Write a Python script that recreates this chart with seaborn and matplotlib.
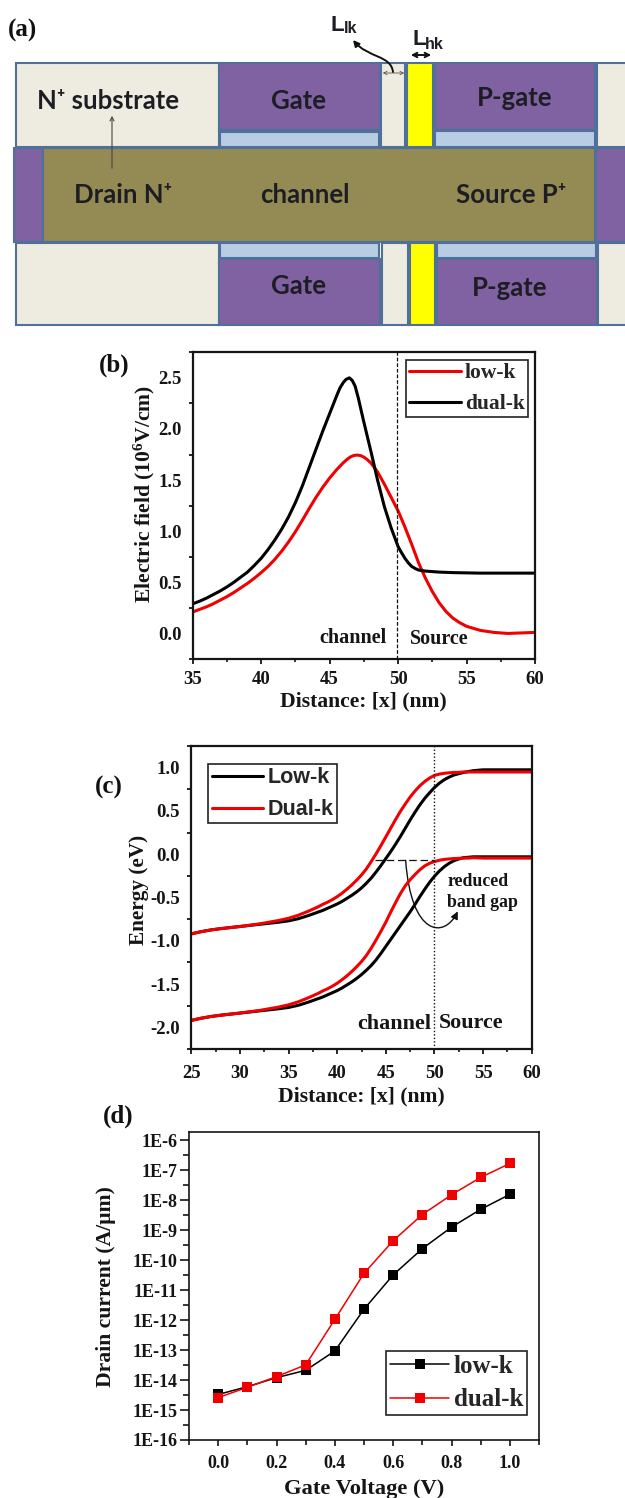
import matplotlib
matplotlib.use("Agg")
import matplotlib.pyplot as plt
from matplotlib.patches import Rectangle, FancyArrowPatch
from matplotlib.path import Path
from matplotlib.ticker import FixedLocator, NullFormatter
import pandas as pd
import seaborn as sns

sns.set_theme(style="white")
SERIF = ["Liberation Serif", "DejaVu Serif"]
plt.rcParams["font.family"] = SERIF
plt.rcParams["font.weight"] = "bold"
plt.rcParams["mathtext.fontset"] = "custom"
plt.rcParams["mathtext.rm"] = "Liberation Serif:bold"
plt.rcParams["mathtext.default"] = "rm"
plt.rcParams["lines.solid_joinstyle"] = "round"

W, H = 625, 1498

# ---------- panel (b) ----------
b_x_low = [35, 35.5, 36, 36.5, 37, 37.5, 38, 38.5, 39, 39.5, 40, 40.5, 41, 41.5, 42, 42.5, 43, 43.5, 44, 44.5, 45, 45.5,
           46, 46.25, 46.5, 46.75, 47, 47.25, 47.5, 47.75, 48, 48.5, 49, 49.5, 50, 50.5, 51, 51.5, 52, 52.5, 53, 53.5,
           54, 54.5, 55, 55.5, 56, 57, 58, 59, 60]
b_low = [.21, .235, .26, .29, .325, .36, .40, .445, .49, .54, .595, .655, .725, .805, .895, .995, 1.105, 1.22, 1.33, 1.43, 1.52, 1.60,
         1.67, 1.70, 1.725, 1.74, 1.745, 1.74, 1.725, 1.70, 1.67, 1.58, 1.46, 1.33, 1.20, 1.04, .87, .69, .54, .41, .30, .215,
         .15, .105, .07, .05, .03, .01, 0.0, .005, .01]
b_x_dual = [35, 35.5, 36, 36.5, 37, 37.5, 38, 38.5, 39, 39.5, 40, 40.5, 41, 41.5, 42, 42.5, 43, 43.5, 44, 44.5, 45, 45.5,
            45.75, 46, 46.2, 46.44, 46.65, 46.86, 47.1, 47.46, 48.07, 48.5, 49, 49.5, 50, 50.25, 50.5, 50.75, 51, 51.25, 51.5,
            52, 52.5, 53, 54, 56, 60]
b_dual = [.29, .315, .345, .38, .415, .455, .50, .55, .60, .665, .735, .82, .915, 1.02, 1.14, 1.28, 1.44, 1.62, 1.80, 1.98, 2.15, 2.32,
          2.40, 2.455, 2.485, 2.50, 2.475, 2.42, 2.30, 2.09, 1.75, 1.50, 1.24, 1.03, .85, .79, .735, .69, .655, .635, .62,
          .61, .605, .60, .595, .59, .59]

# ---------- panel (c) ----------
c_x = [25, 26, 27, 28, 30, 32, 34, 35, 36, 37, 37.5, 38, 38.5, 39, 39.5, 40, 40.5, 41, 41.5, 42, 42.5, 43, 43.5, 44, 44.5, 45,
       45.5, 46, 46.5, 47, 47.5, 48, 48.5, 49, 49.5, 50, 50.5, 51, 51.5, 52, 52.5, 53, 53.5, 54, 55, 60]
c_low_cb = [-.92, -.895, -.875, -.86, -.835, -.81, -.785, -.77, -.745, -.71, -.69, -.67, -.65, -.625, -.60, -.575, -.545, -.51, -.475, -.435, -.39, -.335, -.275, -.205, -.13, -.05,
            .03, .115, .205, .30, .395, .485, .57, .645, .71, .77, .82, .86, .89, .915, .93, .945, .955, .965, .975, .975]
c_dual_cb = [-.92, -.895, -.875, -.86, -.835, -.805, -.765, -.74, -.705, -.66, -.635, -.61, -.58, -.555, -.525, -.49, -.45, -.405, -.355, -.30, -.24, -.17, -.085, .005, .10, .20,
             .30, .40, .495, .58, .66, .73, .79, .84, .88, .91, .925, .935, .94, .945, .945, .95, .95, .95, .95, .95]
c_low_vb = [-1.92, -1.895, -1.875, -1.86, -1.835, -1.81, -1.785, -1.77, -1.745, -1.71, -1.69, -1.67, -1.65, -1.625, -1.60, -1.575, -1.545, -1.51, -1.475, -1.435, -1.39, -1.34, -1.285, -1.22, -1.145, -1.065,
            -.985, -.905, -.825, -.745, -.665, -.58, -.49, -.405, -.325, -.255, -.195, -.145, -.105, -.075, -.055, -.04, -.035, -.03, -.03, -.03]
c_dual_vb = [-1.92, -1.895, -1.875, -1.86, -1.835, -1.805, -1.765, -1.74, -1.705, -1.66, -1.635, -1.61, -1.58, -1.555, -1.525, -1.49, -1.45, -1.405, -1.355, -1.30, -1.24, -1.17, -1.085, -.99, -.89, -.785,
             -.67, -.56, -.455, -.365, -.295, -.235, -.18, -.135, -.105, -.085, -.07, -.06, -.055, -.05, -.048, -.045, -.045, -.04, -.045, -.045]

# ---------- panel (d) ----------
d_vg = [0.0, 0.1, 0.2, 0.3, 0.4, 0.5, 0.6, 0.7, 0.8, 0.9, 1.0]
d_low = [3.3e-15, 6e-15, 1.2e-14, 2.1e-14, 9.3e-14, 2.3e-12, 3.2e-11, 2.4e-10, 1.25e-9, 4.9e-9, 1.55e-8]
d_dual = [2.6e-15, 5.7e-15, 1.3e-14, 3.2e-14, 1.05e-12, 3.6e-11, 4.4e-10, 3.3e-9, 1.5e-8, 5.7e-8, 1.66e-7]
d_ticklabels = ["1E-6", "1E-7", "1E-8", "1E-9", "1E-10", "1E-11", "1E-12", "1E-13", "1E-14", "1E-15", "1E-16"]

# ---------- panel (a) schematic ----------
CREAM, PURPLE, PALE, OLIVE, YELLOW = "#eeece1", "#8062a2", "#b8cce4", "#948a54", "#ffff00"
a_blocks = [
    (16, 63, 203, 84, CREAM), (219, 63, 161, 67, PURPLE), (220, 132, 159, 15, PALE),
    (381, 63, 24, 84, CREAM), (407, 63, 26, 84, YELLOW), (435, 63, 160, 67, PURPLE),
    (435, 131, 160, 16, PALE), (597, 63, 30, 84, CREAM),
    (14, 148, 29, 94, PURPLE), (43, 148, 552, 94, OLIVE), (596, 148, 30, 94, PURPLE),
    (16, 243, 203, 82, CREAM), (220, 243, 159, 15, PALE), (219, 259, 161, 66, PURPLE),
    (382, 243, 26, 82, CREAM), (410, 243, 25, 82, YELLOW), (437, 243, 159, 15, PALE),
    (437, 259, 160, 66, PURPLE), (598, 243, 30, 82, CREAM),
]
a_labels = [("Gate", 298, 101), ("P-gate", 515, 98), ("Drain N⁺", 123, 195), ("channel", 305, 195),
            ("Source P⁺", 511, 195), ("Gate", 298, 286), ("P-gate", 510, 288), ("N⁺ substrate", 108, 101)]


def axes_px(l, t, r, b):
    return fig.add_axes([l / W, 1 - b / H, (r - l) / W, (b - t) / H])


def style_axes(ax, lw=1.6):
    for s in ax.spines.values():
        s.set_linewidth(lw)
        s.set_color("#151515")
    ax.tick_params(which="major", direction="out", length=3.5, width=1.3, labelsize=13.5,
                   color="#151515", labelcolor="#151515", pad=5, left=True, bottom=True)
    ax.tick_params(which="minor", direction="out", length=2.2, width=1.2, color="#151515", left=True, bottom=True)
    ax.grid(False)


def long_table(x, y, name):
    return pd.DataFrame({"x": x, "y": y, "series": name})


fig = plt.figure(figsize=(W / 100, H / 100), dpi=100, facecolor="white")
bg = fig.add_axes([0, 0, 1, 1])
bg.set_xlim(0, W)
bg.set_ylim(H, 0)
bg.axis("off")

for (x, y, w, h, c) in a_blocks:
    bg.add_patch(Rectangle((x, y), w, h, facecolor=c, edgecolor="#4f7199", lw=1.5))
A_FONT = ["Lato", "DejaVu Sans"]
for s, x, y in a_labels:
    bg.text(x, y, s, ha="center", va="center", fontsize=18.5, fontweight="bold", color="#1d1d24", family=A_FONT)
bg.add_patch(FancyArrowPatch((112, 171), (112, 113), arrowstyle="->", mutation_scale=7, lw=0.8, color="#444444"))
bg.add_patch(FancyArrowPatch((380, 73), (407, 73), arrowstyle="<->", mutation_scale=6, lw=0.6, color="#555555"))
bg.add_patch(FancyArrowPatch((408, 55), (434, 55), arrowstyle="<->", mutation_scale=8, lw=1.4, color="#111111"))
curl = Path([(393, 72), (391, 55), (368, 58), (353, 40)], [Path.MOVETO, Path.CURVE4, Path.CURVE4, Path.CURVE4])
bg.add_patch(FancyArrowPatch(path=curl, arrowstyle="-|>", mutation_scale=9, lw=1.4, color="#111111"))
SANS = ["Liberation Sans"]
bg.text(331, 31, "L", fontsize=16, fontweight="bold", color="#1d1d24", family=SANS, va="baseline")
bg.text(344, 33, "lk", fontsize=11.5, fontweight="bold", color="#1d1d24", family=SANS, va="baseline")
bg.text(412, 45, "L", fontsize=16, fontweight="bold", color="#1d1d24", family=SANS, va="baseline")
bg.text(425, 49, "hk", fontsize=11.5, fontweight="bold", color="#1d1d24", family=SANS, va="baseline")

for s, x, y in [("(a)", 8, 30), ("(b)", 99, 365), ("(c)", 95, 787), ("(d)", 103, 1116)]:
    bg.text(x, y, s, fontsize=18, fontweight="bold", color="#111111", va="center")

# ---------- (b) ----------
ax = axes_px(192.7, 352.3, 535, 659)
dfb = pd.concat([long_table(b_x_low, b_low, "low-k"), long_table(b_x_dual, b_dual, "dual-k")])
sns.lineplot(data=dfb, x="x", y="y", hue="series", palette={"low-k": "#f00000", "dual-k": "black"},
             linewidth=2.2, sort=False, errorbar=None, ax=ax, legend=False)
ax.set_xlim(35, 60)
ax.set_ylim(-0.25, 2.75)
style_axes(ax)
ax.set_xticks([35, 40, 45, 50, 55, 60])
ax.xaxis.set_minor_locator(FixedLocator([37.5, 42.5, 47.5, 52.5, 57.5]))
ax.set_yticks([0, .5, 1, 1.5, 2, 2.5])
ax.tick_params(axis="y", which="major", length=0, pad=8)
ax.yaxis.set_minor_locator(FixedLocator([-.25, .25, .75, 1.25, 1.75, 2.25, 2.75]))
ax.tick_params(axis="y", which="minor", length=3.2, width=1.3)
ax.set_xticklabels(["35", "40", "45", "50", "55", "60"])
ax.set_yticklabels(["0.0", "0.5", "1.0", "1.5", "2.0", "2.5"])
ax.axvline(49.9, color="#111111", lw=0.9, ls=(0, (3, 1.5)))
ax.set_xlabel("Distance: [x] (nm)", fontsize=15.6, fontweight="bold", color="#151515", x=0.498, labelpad=3)
ax.set_ylabel(r"Electric field (10$^{6}$V/cm)", fontsize=15.6, fontweight="bold", color="#151515", y=0.538, labelpad=1)
ax.text(46.7, -0.04, "channel", fontsize=14.5, ha="center", va="center", color="#151515")
ax.text(53, -0.05, "Source", fontsize=14.5, ha="center", va="center", color="#151515")
ax.plot([], [], color="#f00000", lw=2.2, label="low-k")
ax.plot([], [], color="black", lw=2.2, label="dual-k")
ax.legend(loc="upper right", bbox_to_anchor=(0.98, 0.975), borderaxespad=0, frameon=True, fancybox=False,
          edgecolor="#222222", framealpha=1, fontsize=15.5, handlelength=2.4, handletextpad=0.2,
          labelspacing=0.5, borderpad=0.15).get_frame().set_linewidth(1.2)

# ---------- (c) ----------
ax = axes_px(191.3, 746, 531.7, 1049)
dfc = pd.concat([long_table(c_x, c_low_cb, "Low-k"), long_table(c_x, c_low_vb, "Low-k v"),
                 long_table(c_x, c_dual_cb, "Dual-k"), long_table(c_x, c_dual_vb, "Dual-k v")])
sns.lineplot(data=dfc, x="x", y="y", hue="series",
             palette={"Low-k": "black", "Low-k v": "black", "Dual-k": "#f00000", "Dual-k v": "#f00000"},
             linewidth=2.2, sort=False, errorbar=None, ax=ax, legend=False)
ax.set_xlim(25, 60)
ax.set_ylim(-2.25, 1.25)
style_axes(ax)
ax.set_xticks([25, 30, 35, 40, 45, 50, 55, 60])
ax.xaxis.set_minor_locator(FixedLocator([27.5, 32.5, 37.5, 42.5, 47.5, 52.5, 57.5]))
ax.set_yticks([-2, -1.5, -1, -.5, 0, .5, 1])
ax.tick_params(axis="y", which="major", length=0, pad=8)
ax.tick_params(axis="x", which="major", pad=8)
ax.yaxis.set_minor_locator(FixedLocator([-2.25, -1.75, -1.25, -.75, -.25, .25, .75, 1.25]))
ax.tick_params(axis="y", which="minor", length=3.2, width=1.3)
ax.set_xticklabels(["25", "30", "35", "40", "45", "50", "55", "60"])
ax.set_yticklabels(["-2.0", "-1.5", "-1.0", "-0.5", "0.0", "0.5", "1.0"])
ax.axvline(50, color="#111111", lw=1.0, ls=(0, (1, 1.5)))
ax.plot([43.9, 50], [-.07, -.07], color="#111111", lw=0.9, ls=(0, (6, 3)))
swoosh = Path([(47.04, -.07), (47.6, -.95), (51, -.98), (52.4, -.66)], [Path.MOVETO, Path.CURVE4, Path.CURVE4, Path.CURVE4])
ax.add_patch(FancyArrowPatch(path=swoosh, arrowstyle="-|>", mutation_scale=11, lw=1.0, color="#111111"))
ax.set_xlabel("Distance: [x] (nm)", fontsize=15.6, fontweight="bold", color="#151515", x=0.5, labelpad=3)
ax.set_ylabel("Energy (eV)", fontsize=15.3, fontweight="bold", color="#151515", y=0.526, labelpad=1)
ax.text(45.83, -1.96, "channel", fontsize=15.8, ha="center", va="center", color="#151515")
ax.text(53.75, -1.95, "Source", fontsize=15.8, ha="center", va="center", color="#151515")
ax.text(51.3, -.31, "reduced", fontsize=12.8, ha="left", va="center", color="#151515")
ax.text(51.3, -.56, "band gap", fontsize=12.8, ha="left", va="center", color="#151515")
ax.plot([], [], color="black", lw=2.2, label="Low-k")
ax.plot([], [], color="#f00000", lw=2.2, label="Dual-k")
ax.legend(loc="upper left", bbox_to_anchor=(0.05, 0.94), borderaxespad=0, frameon=True, fancybox=False,
          edgecolor="#222222", framealpha=1, prop={"family": "Liberation Sans", "weight": "bold", "size": 15.5},
          handlelength=2.4, handletextpad=0.2, labelspacing=0.5, borderpad=0.15).get_frame().set_linewidth(1.2)

# ---------- (d) ----------
ax = axes_px(189, 1132.3, 539, 1440)
dfd = pd.concat([long_table(d_vg, d_low, "low-k"), long_table(d_vg, d_dual, "dual-k")])
sns.lineplot(data=dfd, x="x", y="y", hue="series", palette={"low-k": "black", "dual-k": "#f00000"},
             linewidth=1.1, marker="s", markersize=7.5, markeredgewidth=0, sort=False, errorbar=None, ax=ax)
ax.set_yscale("log")
ax.set_xlim(-0.1, 1.1)
ax.set_ylim(1e-16, 10 ** -5.74)
style_axes(ax, 1.2)
ax.set_xticks([0, .2, .4, .6, .8, 1.0])
ax.set_xticklabels(["0.0", "0.2", "0.4", "0.6", "0.8", "1.0"])
ax.xaxis.set_minor_locator(FixedLocator([-.1, .1, .3, .5, .7, .9, 1.1]))
ax.tick_params(axis="x", which="minor", length=3.5, width=1.2)
exps = list(range(-6, -17, -1))
ax.yaxis.set_major_locator(FixedLocator([10.0 ** e for e in exps]))
ax.set_yticklabels(d_ticklabels)
ax.yaxis.set_minor_locator(FixedLocator([10.0 ** (e + .5) for e in range(-16, -6)]))
ax.yaxis.set_minor_formatter(NullFormatter())
ax.tick_params(axis="y", which="major", length=6.5, width=1.2, labelsize=13, pad=2)
ax.tick_params(axis="y", which="minor", length=4, width=1.2)
ax.tick_params(axis="x", which="major", length=4.5, width=1.2, pad=6, labelsize=13)
ax.set_xlabel("Gate Voltage (V)", fontsize=16.2, fontweight="bold", color="#151515", labelpad=5)
ax.set_ylabel("Drain current (A/µm)", fontsize=15.6, fontweight="bold", color="#151515", labelpad=3)
ax.yaxis.set_label_coords((116 - 189) / 350, 0.5)
h, l = ax.get_legend_handles_labels()
ax.legend(h, l, title=None, loc="lower right", bbox_to_anchor=((527 - 189) / 350, (1440 - 1415) / 307.7), borderaxespad=0,
          frameon=True, fancybox=False, edgecolor="#222222", framealpha=1, fontsize=18, handlelength=2.35,
          handletextpad=0.2, labelspacing=0.42, borderpad=0.15).get_frame().set_linewidth(1.2)

fig.savefig("out.png", dpi=100)
